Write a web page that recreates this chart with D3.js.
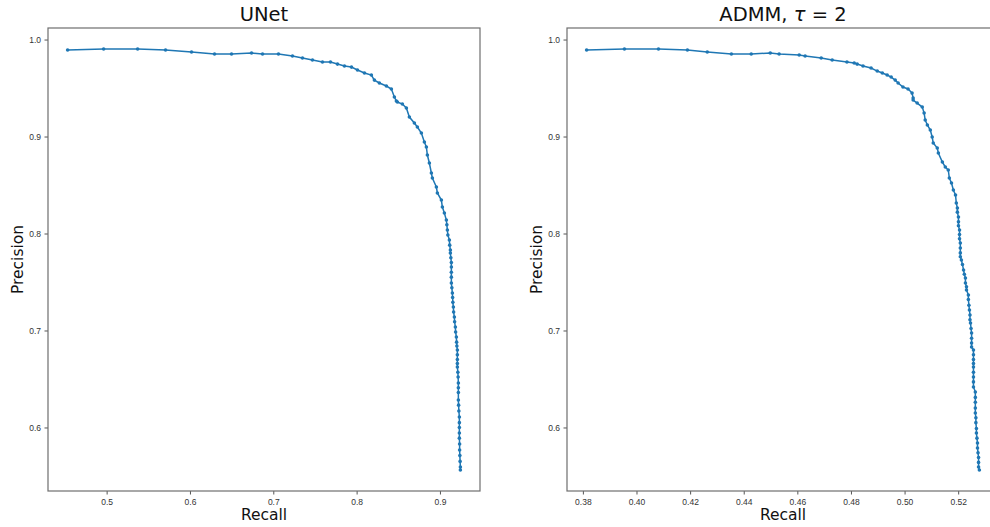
<!DOCTYPE html>
<html>
<head>
<meta charset="utf-8">
<script src="https://cdn.jsdelivr.net/npm/d3@7"></script>
<style>
  html, body { margin: 0; padding: 0; background: #fff; }
  svg { display: block; font-family: "DejaVu Sans", sans-serif; }
  .tick text { font-size: 8.5px; fill: #333; }
  .tick line { stroke: #555; }
</style>
</head>
<body>
<svg id="chart" width="990" height="527"></svg>
<script>
// Precision-recall curve of the UNet model
const unetRecall = [
  0.4532, 0.4964, 0.5372, 0.5707, 0.6019, 0.6295, 0.6499, 0.6739, 0.6871, 0.7062,
  0.7230, 0.7350, 0.7470, 0.7590, 0.7686, 0.7770, 0.7854, 0.7938, 0.8010, 0.8094,
  0.8177, 0.8213, 0.8273, 0.8357, 0.8417, 0.8453, 0.8477, 0.8489, 0.8549, 0.8597,
  0.8633, 0.8693, 0.8729, 0.8777, 0.8813, 0.8837, 0.8849, 0.8873, 0.8897, 0.8909,
  0.8957, 0.8969, 0.9017, 0.9029, 0.9053, 0.9077, 0.9083, 0.9089, 0.9095, 0.9113,
  0.9117, 0.9125, 0.9125, 0.9131, 0.9137, 0.9137, 0.9137, 0.9137, 0.9137, 0.9143,
  0.9149, 0.9152, 0.9155, 0.9161, 0.9164, 0.9173, 0.9176, 0.9185, 0.9188, 0.9197,
  0.9200, 0.9203, 0.9209, 0.9209, 0.9209, 0.9209, 0.9209, 0.9215, 0.9218, 0.9221,
  0.9221, 0.9221, 0.9221, 0.9224, 0.9227, 0.9233, 0.9233, 0.9233, 0.9233, 0.9233,
  0.9236, 0.9236, 0.9239, 0.9242, 0.9245, 0.9245
];
const unetPrecision = [
  0.9892, 0.9902, 0.9902, 0.9892, 0.9871, 0.9851, 0.9851, 0.9861, 0.9851, 0.9851,
  0.9830, 0.9809, 0.9789, 0.9768, 0.9768, 0.9747, 0.9727, 0.9716, 0.9686, 0.9655,
  0.9634, 0.9582, 0.9552, 0.9521, 0.9490, 0.9407, 0.9366, 0.9356, 0.9335, 0.9294,
  0.9201, 0.9139, 0.9098, 0.9036, 0.8943, 0.8892, 0.8809, 0.8727, 0.8624, 0.8572,
  0.8479, 0.8418, 0.8345, 0.8273, 0.8211, 0.8139, 0.8090, 0.8036, 0.7985, 0.7933,
  0.7880, 0.7830, 0.7799, 0.7750, 0.7700, 0.7655, 0.7600, 0.7550, 0.7490, 0.7440,
  0.7387, 0.7340, 0.7290, 0.7242, 0.7190, 0.7139, 0.7090, 0.7036, 0.6985, 0.6933,
  0.6880, 0.6840, 0.6799, 0.6750, 0.6700, 0.6660, 0.6624, 0.6570, 0.6520, 0.6459,
  0.6410, 0.6360, 0.6284, 0.6230, 0.6170, 0.6108, 0.6050, 0.6000, 0.5943, 0.5890,
  0.5830, 0.5768, 0.5710, 0.5650, 0.5593, 0.5562
];

// Precision-recall curve of the ADMM model (tau = 2)
const admmRecall = [
  0.3814, 0.3955, 0.4082, 0.4190, 0.4264, 0.4354, 0.4428, 0.4499, 0.4532, 0.4607,
  0.4629, 0.4689, 0.4730, 0.4785, 0.4812, 0.4823, 0.4845, 0.4875, 0.4898, 0.4917,
  0.4935, 0.4950, 0.4965, 0.4976, 0.4994, 0.5013, 0.5028, 0.5032, 0.5032, 0.5047,
  0.5066, 0.5073, 0.5077, 0.5085, 0.5096, 0.5103, 0.5107, 0.5122, 0.5126, 0.5141,
  0.5152, 0.5163, 0.5167, 0.5175, 0.5182, 0.5190, 0.5193, 0.5197, 0.5197, 0.5201,
  0.5201, 0.5201, 0.5205, 0.5205, 0.5205, 0.5208, 0.5208, 0.5208, 0.5208, 0.5212,
  0.5216, 0.5220, 0.5223, 0.5227, 0.5227, 0.5231, 0.5231, 0.5238, 0.5238, 0.5240,
  0.5242, 0.5244, 0.5244, 0.5246, 0.5248, 0.5250, 0.5250, 0.5250, 0.5250, 0.5257,
  0.5257, 0.5257, 0.5257, 0.5257, 0.5257, 0.5257, 0.5257, 0.5257, 0.5264, 0.5264,
  0.5264, 0.5264, 0.5264, 0.5266, 0.5266, 0.5268, 0.5268, 0.5270, 0.5272, 0.5272,
  0.5274, 0.5276, 0.5276, 0.5276, 0.5279
];
const admmPrecision = [
  0.9892, 0.9902, 0.9902, 0.9892, 0.9871, 0.9851, 0.9851, 0.9861, 0.9851, 0.9840,
  0.9830, 0.9809, 0.9789, 0.9768, 0.9758, 0.9747, 0.9727, 0.9706, 0.9675, 0.9655,
  0.9634, 0.9613, 0.9582, 0.9552, 0.9510, 0.9490, 0.9448, 0.9397, 0.9376, 0.9345,
  0.9304, 0.9242, 0.9170, 0.9119, 0.9067, 0.8995, 0.8933, 0.8881, 0.8830, 0.8737,
  0.8686, 0.8655, 0.8572, 0.8521, 0.8448, 0.8397, 0.8314, 0.8263, 0.8220, 0.8170,
  0.8120, 0.8080, 0.8036, 0.7990, 0.7945, 0.7902, 0.7850, 0.7800, 0.7760, 0.7727,
  0.7680, 0.7624, 0.7580, 0.7541, 0.7490, 0.7450, 0.7418, 0.7366, 0.7320, 0.7260,
  0.7211, 0.7160, 0.7110, 0.7077, 0.7020, 0.6974, 0.6920, 0.6870, 0.6830, 0.6799,
  0.6750, 0.6700, 0.6660, 0.6624, 0.6570, 0.6520, 0.6470, 0.6418, 0.6366, 0.6310,
  0.6260, 0.6200, 0.6149, 0.6100, 0.6050, 0.5990, 0.5943, 0.5890, 0.5840, 0.5789,
  0.5740, 0.5690, 0.5640, 0.5593, 0.5562
];

const unetXTicks = [0.5, 0.6, 0.7, 0.8, 0.9];
const admmXTicks = [0.38, 0.40, 0.42, 0.44, 0.46, 0.48, 0.50, 0.52];
const precisionTicks = [0.6, 0.7, 0.8, 0.9, 1.0];

const panels = [
  { title: [{ t: "UNet" }], recall: unetRecall, precision: unetPrecision,
    xTicks: unetXTicks, xFmt: d3.format(".1f"), left: 48 },
  { title: [{ t: "ADMM, " }, { t: "τ", italic: true }, { t: " = 2" }],
    recall: admmRecall, precision: admmPrecision,
    xTicks: admmXTicks, xFmt: d3.format(".2f"), left: 567 }
];

const svg = d3.select("#chart");
const plotTop = 28, plotH = 463, plotW = 432;
const lineColor = "#1f77b4";

// pad an extent by 5% on each side
function padded(values) {
  const [lo, hi] = d3.extent(values);
  const m = (hi - lo) * 0.05;
  return [lo - m, hi + m];
}

panels.forEach(p => {
  const g = svg.append("g").attr("transform", `translate(${p.left},${plotTop})`);
  const x = d3.scaleLinear().domain(padded(p.recall)).range([0, plotW]);
  const y = d3.scaleLinear().domain(padded(p.precision)).range([plotH, 0]);
  const pts = p.recall.map((r, i) => [r, p.precision[i]]);

  const clipId = "clip" + p.left;
  g.append("clipPath").attr("id", clipId)
    .append("rect").attr("width", plotW).attr("height", plotH);

  const plot = g.append("g").attr("clip-path", `url(#${clipId})`);
  plot.append("path")
    .datum(pts)
    .attr("fill", "none")
    .attr("stroke", lineColor)
    .attr("stroke-width", 1.5)
    .attr("d", d3.line().x(d => x(d[0])).y(d => y(d[1])));
  plot.selectAll("circle")
    .data(pts)
    .join("circle")
    .attr("cx", d => x(d[0]))
    .attr("cy", d => y(d[1]))
    .attr("r", 1.8)
    .attr("fill", lineColor);

  // axes
  const xAxis = g.append("g").attr("transform", `translate(0,${plotH})`)
    .call(d3.axisBottom(x).tickValues(p.xTicks).tickFormat(p.xFmt).tickSize(3.5).tickPadding(4));
  const yAxis = g.append("g")
    .call(d3.axisLeft(y).tickValues(precisionTicks).tickFormat(d3.format(".1f")).tickSize(3.5).tickPadding(3.5));
  xAxis.select(".domain").remove();
  yAxis.select(".domain").remove();

  // frame
  g.append("rect")
    .attr("width", plotW).attr("height", plotH)
    .attr("fill", "none").attr("stroke", "#6e6e6e").attr("stroke-width", 1.2);

  // title
  const title = g.append("text")
    .attr("x", plotW / 2).attr("y", -7)
    .attr("text-anchor", "middle")
    .attr("font-size", 19.5).attr("fill", "#111");
  p.title.forEach(s => {
    title.append("tspan").text(s.t).attr("font-style", s.italic ? "italic" : null);
  });

  // axis labels
  g.append("text")
    .attr("x", plotW / 2).attr("y", plotH + 29)
    .attr("text-anchor", "middle")
    .attr("font-size", 15.5).attr("fill", "#111")
    .text("Recall");
  g.append("text")
    .attr("transform", `translate(-25,${plotH / 2}) rotate(-90)`)
    .attr("text-anchor", "middle")
    .attr("font-size", 15.5).attr("fill", "#111")
    .text("Precision");
});
</script>
</body>
</html>
